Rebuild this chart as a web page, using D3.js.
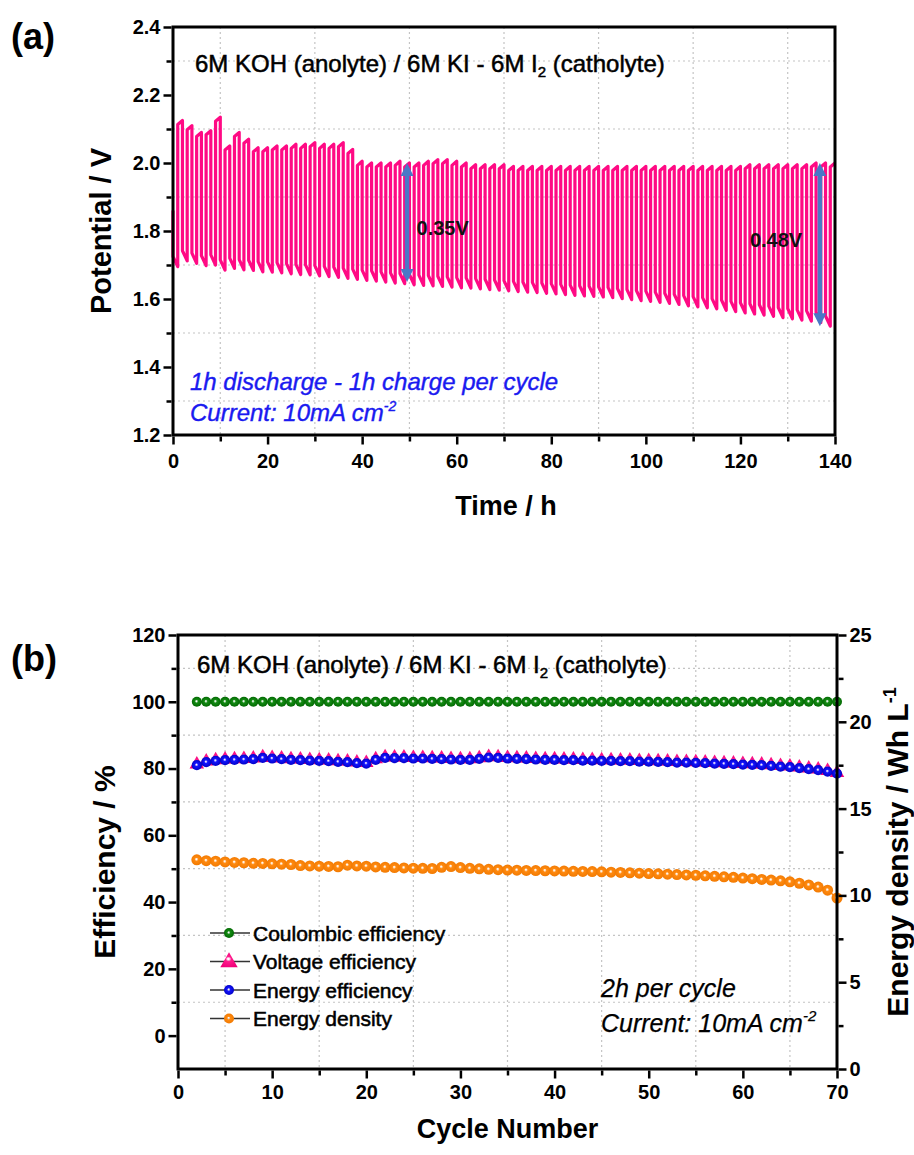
<!DOCTYPE html>
<html>
<head>
<meta charset="utf-8">
<script src="https://cdn.jsdelivr.net/npm/d3@7"></script>
<style>
  body { margin: 0; background: #fff; }
  svg text { font-family: "Liberation Sans", Arial, Helvetica, sans-serif; }
</style>
</head>
<body>
<svg id="fig" width="914" height="1155"></svg>
<script>
// ---------------- Panel (a): galvanostatic cycling, 70 cycles of 2 h ----------------
const potStartV = 1.86;            // open value at t = 0
// voltage at end of each 1 h charge (cycle 1..70)
const chargeTopV = [
  2.125, 2.110, 2.090, 2.095, 2.135, 2.050, 2.090, 2.070, 2.045, 2.045,
  2.050, 2.050, 2.055, 2.055, 2.060, 2.055, 2.055, 2.060, 2.040, 2.005,
  2.000, 2.000, 2.000, 2.005, 2.000, 2.000, 2.005, 2.010, 2.010, 2.005,
  2.000, 1.995, 1.995, 1.995, 1.995, 1.990, 1.990, 1.990, 1.990, 1.990,
  1.990, 1.990, 1.990, 1.990, 1.990, 1.990, 1.990, 1.990, 1.990, 1.990,
  1.990, 1.990, 1.990, 1.990, 1.990, 1.990, 1.990, 1.990, 1.990, 1.990,
  1.995, 1.995, 1.995, 1.995, 1.995, 1.995, 1.995, 2.000, 2.000, 2.000
];
// voltage at end of each 1 h discharge (cycle 1..70)
const dischargeEndV = [
  1.695, 1.712, 1.705, 1.698, 1.700, 1.685, 1.690, 1.686, 1.684, 1.680,
  1.679, 1.677, 1.674, 1.672, 1.671, 1.668, 1.666, 1.664, 1.661, 1.658,
  1.655, 1.653, 1.650, 1.647, 1.645, 1.642, 1.640, 1.639, 1.637, 1.635,
  1.633, 1.632, 1.630, 1.628, 1.626, 1.624, 1.622, 1.620, 1.619, 1.617,
  1.615, 1.613, 1.611, 1.609, 1.608, 1.606, 1.604, 1.601, 1.598, 1.595,
  1.593, 1.590, 1.587, 1.584, 1.580, 1.577, 1.574, 1.571, 1.567, 1.563,
  1.559, 1.556, 1.553, 1.549, 1.545, 1.542, 1.538, 1.535, 1.531, 1.520
];
const timeTicks = [0, 20, 40, 60, 80, 100, 120, 140];
const potTicks = [1.2, 1.4, 1.6, 1.8, 2.0, 2.2, 2.4];
const gapArrows = [
  { t: 49.5,  top: 2.00, span: 0.35, label: "0.35V", labelT: 51.5, labelV: 1.81 },
  { t: 136.8, top: 2.00, span: 0.48, label: "0.48V", labelT: 122,  labelV: 1.775 }
];

// ---------------- Panel (b): efficiencies and energy density per cycle ----------------
const cycleNo = d3.range(2, 71);
const coulombicEff = [
  100, 100, 100, 100, 100, 100, 100, 100, 100, 100, 100, 100, 100, 100, 100, 100, 100, 100, 100, 100,
  100, 100, 100, 100, 100, 100, 100, 100, 100, 100, 100, 100, 100, 100, 100, 100, 100, 100, 100, 100,
  100, 100, 100, 100, 100, 100, 100, 100, 100, 100, 100, 100, 100, 100, 100, 100, 100, 100, 100, 100,
  100, 100, 100, 100, 100, 100, 100, 100, 100
];
const voltageEff = [
  81.4, 82.3, 82.7, 82.9, 83.0, 83.1, 83.2, 83.6, 83.4, 83.2, 83.0, 82.9, 82.8, 82.7, 82.6, 82.4, 82.3, 82.0, 81.9, 83.0,
  83.6, 83.5, 83.5, 83.4, 83.4, 83.3, 83.2, 83.1, 83.0, 83.0, 83.3, 83.7, 83.6, 83.4, 83.3, 83.2, 83.1, 83.0, 83.0, 82.9,
  82.9, 82.8, 82.8, 82.7, 82.7, 82.6, 82.6, 82.5, 82.5, 82.4, 82.3, 82.2, 82.2, 82.1, 82.0, 81.9, 81.8, 81.7, 81.6, 81.5,
  81.4, 81.2, 81.0, 80.8, 80.5, 80.2, 79.9, 79.5, 78.9
];
const energyEff = [
  81.0, 81.9, 82.3, 82.5, 82.6, 82.7, 82.8, 83.2, 83.0, 82.8, 82.6, 82.5, 82.4, 82.3, 82.2, 82.0, 81.9, 81.6, 81.5, 82.6,
  83.2, 83.1, 83.1, 83.0, 83.0, 82.9, 82.8, 82.7, 82.6, 82.6, 82.9, 83.3, 83.2, 83.0, 82.9, 82.8, 82.7, 82.6, 82.6, 82.5,
  82.5, 82.4, 82.4, 82.3, 82.3, 82.2, 82.2, 82.1, 82.1, 82.0, 81.9, 81.8, 81.8, 81.7, 81.6, 81.5, 81.4, 81.3, 81.2, 81.1,
  81.0, 80.8, 80.6, 80.4, 80.1, 79.8, 79.5, 79.1, 78.5
];
const energyDensity = [
  12.05, 12.00, 11.97, 11.93, 11.90, 11.88, 11.85, 11.84, 11.82, 11.80, 11.78, 11.72, 11.70, 11.68, 11.67, 11.65, 11.74, 11.70, 11.68, 11.64,
  11.62, 11.60, 11.58, 11.57, 11.56, 11.55, 11.62, 11.66, 11.60, 11.56, 11.53, 11.50, 11.48, 11.46, 11.45, 11.44, 11.43, 11.42, 11.41, 11.40,
  11.39, 11.38, 11.37, 11.36, 11.34, 11.32, 11.30, 11.28, 11.26, 11.24, 11.22, 11.20, 11.18, 11.16, 11.13, 11.10, 11.07, 11.04, 11.00, 10.96,
  10.92, 10.88, 10.84, 10.78, 10.70, 10.60, 10.48, 10.30, 9.85
];
const cycleTicks = [0, 10, 20, 30, 40, 50, 60, 70];
const effTicks = [0, 20, 40, 60, 80, 100, 120];
const densTicks = [0, 5, 10, 15, 20, 25];
const legendNames = ["Coulombic efficiency", "Voltage efficiency", "Energy efficiency", "Energy density"];

// ---------------- drawing ----------------
const svg = d3.select("#fig");
const defs = svg.append("defs");
const INK = "#000";
const GRID = "#c4c4c4";
const PINK = "#ff0a84";
const TICK_FONT = 20;

// shaded "ball" fills for the scatter symbols (small highlight, solid body)
function ballGradient(id, base, dark) {
  const g = defs.append("radialGradient").attr("id", id)
    .attr("cx", "50%").attr("cy", "50%").attr("r", "55%")
    .attr("fx", "46%").attr("fy", "44%");
  g.append("stop").attr("offset", "0%").attr("stop-color", "#ffffff");
  g.append("stop").attr("offset", "8%").attr("stop-color", "#ffffff").attr("stop-opacity", 0.85);
  g.append("stop").attr("offset", "30%").attr("stop-color", base);
  g.append("stop").attr("offset", "100%").attr("stop-color", dark);
}
ballGradient("gGreen", "#148c14", "#006400");
ballGradient("gBlue", "#1414ff", "#0000c0");
ballGradient("gOrange", "#ff8a10", "#f07800");
ballGradient("gPink", "#ff1a8c", "#f00078");

function drawFrame(g, box) {
  g.append("rect")
    .attr("x", box.left).attr("y", box.top)
    .attr("width", box.right - box.left).attr("height", box.bottom - box.top)
    .attr("fill", "none").attr("stroke", INK).attr("stroke-width", 3);
}

function styleAxis(sel) {
  sel.select(".domain").remove();
  sel.selectAll(".tick line").attr("stroke", INK).attr("stroke-width", 2.5);
  sel.selectAll(".tick text")
    .attr("fill", INK).attr("font-size", TICK_FONT).attr("font-weight", "bold")
    .attr("font-family", '"Liberation Sans", Arial, sans-serif');
}

function minorAxis(g, axisFn, scale, values, transform) {
  g.append("g").attr("transform", transform)
    .call(axisFn(scale).tickValues(values).tickSize(5).tickFormat(""))
    .call(s => { s.select(".domain").remove(); s.selectAll(".tick line").attr("stroke", INK).attr("stroke-width", 2.5); });
}

function gridLines(g, box, xScale, xVals, yScale, yVals) {
  g.append("g").selectAll("line.vx").data(xVals).join("line")
    .attr("x1", d => xScale(d)).attr("x2", d => xScale(d))
    .attr("y1", box.top).attr("y2", box.bottom)
    .attr("stroke", GRID).attr("stroke-width", 1.2).attr("stroke-dasharray", "2,3");
  g.append("g").selectAll("line.hy").data(yVals).join("line")
    .attr("y1", d => yScale(d)).attr("y2", d => yScale(d))
    .attr("x1", box.left).attr("x2", box.right)
    .attr("stroke", GRID).attr("stroke-width", 1.2).attr("stroke-dasharray", "2,3");
}

function titleText(g, x, y) {
  g.append("text").attr("x", x).attr("y", y).attr("font-size", 24)
    .attr("stroke", "#000").attr("stroke-width", 0.5)
    .call(t => {
      t.append("tspan").text("6M KOH (anolyte) / 6M KI - 6M I");
      t.append("tspan").attr("font-size", 15).attr("dy", 5).text("2");
      t.append("tspan").attr("dy", -5).text(" (catholyte)");
    });
}

// ===== Panel (a) =====
const boxA = { left: 173, right: 835, top: 27, bottom: 435 };
const xA = d3.scaleLinear().domain([0, 140]).range([boxA.left, boxA.right]);
const yA = d3.scaleLinear().domain([1.2, 2.4]).range([boxA.bottom, boxA.top]);
const gA = svg.append("g");

gridLines(gA, boxA, xA, d3.range(10, 140, 20), yA, [1.3, 1.5, 1.7, 1.9, 2.1, 2.3]);

// potential trace: 1 h discharge followed by 1 h charge in each cycle
const trace = [[0, potStartV]];
chargeTopV.forEach((top, i) => {
  const t0 = 2 * i;
  const low = dischargeEndV[i];
  trace.push([t0, low + 0.03]);
  trace.push([t0 + 1, low]);
  trace.push([t0 + 1, top - 0.012]);
  trace.push([t0 + 2, top]);
});
gA.append("path")
  .datum(trace)
  .attr("fill", "none").attr("stroke", PINK).attr("stroke-width", 3.2)
  .attr("stroke-linejoin", "round")
  .attr("d", d3.line().x(d => xA(d[0])).y(d => yA(d[1])));

// double arrows marking the voltage gap
const ARROW = "#4a78c6";
gapArrows.forEach(a => {
  const x = xA(a.t), y1 = yA(a.top), y2 = yA(a.top - a.span);
  const hw = 6.5, hl = 13;
  gA.append("line").attr("x1", x).attr("x2", x).attr("y1", y1 + hl - 1).attr("y2", y2 - hl + 1)
    .attr("stroke", ARROW).attr("stroke-width", 4.5);
  gA.append("path").attr("fill", ARROW)
    .attr("d", `M${x},${y1} L${x - hw},${y1 + hl} L${x + hw},${y1 + hl} Z`);
  gA.append("path").attr("fill", ARROW)
    .attr("d", `M${x},${y2} L${x - hw},${y2 - hl} L${x + hw},${y2 - hl} Z`);
  gA.append("text").attr("x", xA(a.labelT)).attr("y", yA(a.labelV))
    .attr("dy", "0.35em").attr("font-size", 20).attr("font-weight", "bold").attr("fill", "#111")
    .text(a.label);
});

drawFrame(gA, boxA);
gA.append("g").attr("transform", `translate(${boxA.left - 1.5},0)`)
  .call(d3.axisLeft(yA).tickValues(potTicks).tickSize(8).tickPadding(3).tickFormat(d3.format(".1f")))
  .call(styleAxis);
minorAxis(gA, d3.axisLeft, yA, [1.3, 1.5, 1.7, 1.9, 2.1, 2.3], `translate(${boxA.left - 1.5},0)`);
gA.append("g").attr("transform", `translate(0,${boxA.bottom + 1.5})`)
  .call(d3.axisBottom(xA).tickValues(timeTicks).tickSize(8).tickPadding(9))
  .call(styleAxis);
minorAxis(gA, d3.axisBottom, xA, d3.range(10, 140, 20), `translate(0,${boxA.bottom + 1.5})`);

// titles and annotations
titleText(gA, 195, 72);
const BLUE_TXT = "#1a1af0";
gA.append("text").attr("x", 190).attr("y", 390).attr("font-size", 24).attr("font-style", "italic")
  .attr("fill", BLUE_TXT).attr("stroke", BLUE_TXT).attr("stroke-width", 0.4)
  .text("1h discharge - 1h charge per cycle");
gA.append("text").attr("x", 190).attr("y", 421).attr("font-size", 24).attr("font-style", "italic")
  .attr("fill", BLUE_TXT).attr("stroke", BLUE_TXT).attr("stroke-width", 0.4)
  .call(t => {
    t.append("tspan").text("Current: 10mA cm");
    t.append("tspan").attr("font-size", 14).attr("dy", -10).text("-2");
  });
gA.append("text").attr("transform", `translate(111,${(boxA.top + boxA.bottom) / 2}) rotate(-90)`)
  .attr("text-anchor", "middle").attr("font-size", 29).attr("font-weight", "bold")
  .text("Potential / V");
gA.append("text").attr("x", (boxA.left + boxA.right) / 2 + 2).attr("y", 515)
  .attr("text-anchor", "middle").attr("font-size", 27).attr("font-weight", "bold")
  .text("Time / h");
svg.append("text").attr("x", 11).attr("y", 49).attr("font-size", 36).attr("font-weight", "bold").text("(a)");

// ===== Panel (b) =====
const boxB = { left: 178, right: 837, top: 635, bottom: 1069 };
const xB = d3.scaleLinear().domain([0, 70]).range([boxB.left, boxB.right]);
const yB = d3.scaleLinear().domain([-10, 120]).range([boxB.bottom, boxB.top]);
const yB2 = d3.scaleLinear().domain([0, 25]).range([boxB.bottom, boxB.top]);
const gB = svg.append("g");

gridLines(gB, boxB, xB, d3.range(5, 70, 10), yB, [10, 30, 50, 70, 90, 110]);

function seriesLine(vals, scale, color) {
  gB.append("path").datum(vals)
    .attr("fill", "none").attr("stroke", color).attr("stroke-width", 1.5)
    .attr("d", d3.line().x((d, i) => xB(cycleNo[i])).y(d => scale(d)));
}
function circles(vals, scale, fill, r) {
  gB.append("g").selectAll("circle").data(vals).join("circle")
    .attr("cx", (d, i) => xB(cycleNo[i])).attr("cy", d => scale(d))
    .attr("r", r).attr("fill", fill);
}
const triPath = s => `M0,${-s * 0.62} L${s * 0.58},${s * 0.38} L${-s * 0.58},${s * 0.38} Z`;

seriesLine(coulombicEff, yB, "#0a7a0a");
circles(coulombicEff, yB, "url(#gGreen)", 5);

seriesLine(energyDensity, yB2, "#ff8000");
circles(energyDensity, yB2, "url(#gOrange)", 5.5);

seriesLine(voltageEff, yB, PINK);
gB.append("g").selectAll("path").data(voltageEff).join("path")
  .attr("transform", (d, i) => `translate(${xB(cycleNo[i])},${yB(d)})`)
  .attr("d", triPath(12.5)).attr("fill", "url(#gPink)");

seriesLine(energyEff, yB, "#0000ff");
circles(energyEff, yB, "url(#gBlue)", 5.1);

drawFrame(gB, boxB);
gB.append("g").attr("transform", `translate(${boxB.left - 1.5},0)`)
  .call(d3.axisLeft(yB).tickValues(effTicks).tickSize(8).tickPadding(3))
  .call(styleAxis);
minorAxis(gB, d3.axisLeft, yB, [10, 30, 50, 70, 90, 110], `translate(${boxB.left - 1.5},0)`);
gB.append("g").attr("transform", `translate(${boxB.right + 1.5},0)`)
  .call(d3.axisRight(yB2).tickValues(densTicks).tickSize(8).tickPadding(3))
  .call(styleAxis);
minorAxis(gB, d3.axisRight, yB2, [2.5, 7.5, 12.5, 17.5, 22.5], `translate(${boxB.right + 1.5},0)`);
gB.append("g").attr("transform", `translate(0,${boxB.bottom + 1.5})`)
  .call(d3.axisBottom(xB).tickValues(cycleTicks).tickSize(8).tickPadding(6))
  .call(styleAxis);
minorAxis(gB, d3.axisBottom, xB, d3.range(5, 70, 10), `translate(0,${boxB.bottom + 1.5})`);

titleText(gB, 197, 673);

// legend
const legendRows = [
  { kind: "circle", fill: "url(#gGreen)" },
  { kind: "tri", fill: "url(#gPink)" },
  { kind: "circle", fill: "url(#gBlue)" },
  { kind: "circle", fill: "url(#gOrange)" }
];
legendNames.forEach((name, i) => {
  const y = 933 + i * 28.5;
  const row = gB.append("g");
  row.append("line").attr("x1", 210).attr("x2", 250).attr("y1", y).attr("y2", y)
    .attr("stroke", "#333").attr("stroke-width", 1.5);
  if (legendRows[i].kind === "tri") {
    row.append("path").attr("transform", `translate(229,${y})`).attr("d", triPath(15)).attr("fill", legendRows[i].fill);
  } else {
    row.append("circle").attr("cx", 229).attr("cy", y).attr("r", 5).attr("fill", legendRows[i].fill);
  }
  row.append("text").attr("x", 253).attr("y", y).attr("dy", "0.36em")
    .attr("font-size", 21).attr("stroke", "#000").attr("stroke-width", 0.55).text(name);
});

gB.append("text").attr("x", 601).attr("y", 997).attr("font-size", 25).attr("font-style", "italic")
  .attr("stroke", "#000").attr("stroke-width", 0.25)
  .text("2h per cycle");
gB.append("text").attr("x", 601).attr("y", 1032).attr("font-size", 25).attr("font-style", "italic")
  .attr("stroke", "#000").attr("stroke-width", 0.25)
  .call(t => {
    t.append("tspan").text("Current: 10mA cm");
    t.append("tspan").attr("font-size", 15).attr("dy", -11).text("-2");
  });

gB.append("text").attr("transform", `translate(115,${(boxB.top + boxB.bottom) / 2 + 10}) rotate(-90)`)
  .attr("text-anchor", "middle").attr("font-size", 30).attr("font-weight", "bold")
  .text("Efficiency / %");
gB.append("text").attr("transform", `translate(908,${(boxB.top + boxB.bottom) / 2}) rotate(-90)`)
  .attr("text-anchor", "middle").attr("font-size", 30).attr("font-weight", "bold")
  .call(t => {
    t.append("tspan").text("Energy density / Wh L");
    t.append("tspan").attr("font-size", 18).attr("dy", -12).text("-1");
  });
gB.append("text").attr("x", (boxB.left + boxB.right) / 2).attr("y", 1138)
  .attr("text-anchor", "middle").attr("font-size", 27).attr("font-weight", "bold")
  .text("Cycle Number");
svg.append("text").attr("x", 11).attr("y", 671).attr("font-size", 36).attr("font-weight", "bold").text("(b)");
</script>
</body>
</html>
